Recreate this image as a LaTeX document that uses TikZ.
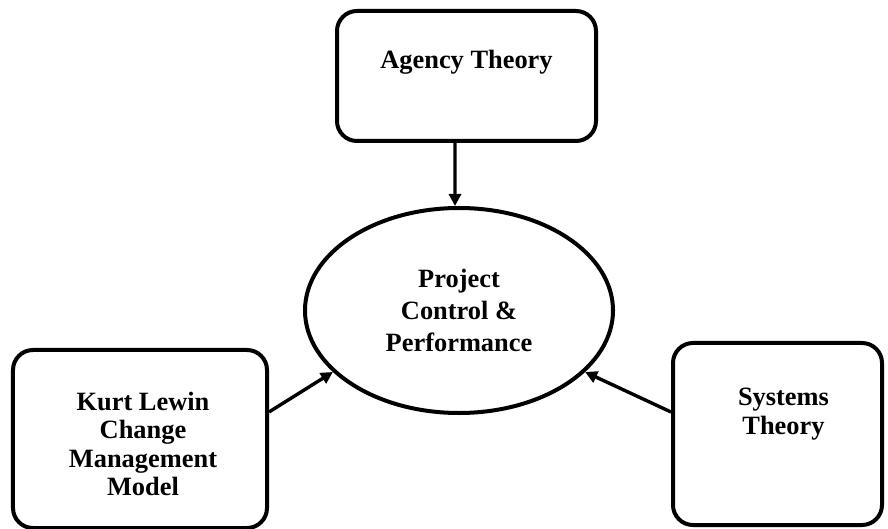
\documentclass[tikz,border=0pt]{standalone}
\usepackage{fontspec}
\setmainfont{Liberation Serif}
\usetikzlibrary{arrows.meta,shapes.geometric}
\begin{document}
\begin{tikzpicture}[x=1bp,y=-1bp,
  framebox/.style={draw=black, line width=4bp, rounded corners=20bp, inner sep=0pt},
  lbl/.style={font=\bfseries\fontsize{26.5}{28.5}\selectfont, align=center, inner sep=0pt},
  hub/.style={draw=black, line width=4bp, ellipse, inner sep=0pt,
    font=\bfseries\fontsize{26.5}{32}\selectfont, align=center},
  link/.style={draw=black, line width=3.4bp, -{Triangle[length=12bp,width=12bp]}}
]
\useasboundingbox (0,0) rectangle (888,529);

% theory boxes
\node[framebox, minimum width=259bp, minimum height=130bp] (agency) at (466.5,76) {};
\node[lbl] (agencyT) at (466.5,62) {Agency Theory};

\node[framebox, minimum width=254bp, minimum height=178bp] (kurt) at (140,439) {};
\node[lbl] (kurtT) at (143,444) {Kurt Lewin\\Change\\Management\\Model};

\node[framebox, minimum width=209bp, minimum height=182bp] (systems) at (777.5,434) {};
\node[lbl] (systemsT) at (783.5,414) {Systems\\Theory};

% central concept
\node[hub, minimum width=308bp, minimum height=205bp] (pcp) at (459,310.5)
  {Project\\Control \&\\Performance};

% influences
\draw[link] ([xshift=-11.5bp]agency.south) -- ([xshift=-4bp]pcp.north);
\draw[link] ([yshift=27bp]kurt.east) -- (pcp.206.7);
\draw[link] ([yshift=22bp]systems.west) -- (pcp.334.5);
\end{tikzpicture}
\end{document}
